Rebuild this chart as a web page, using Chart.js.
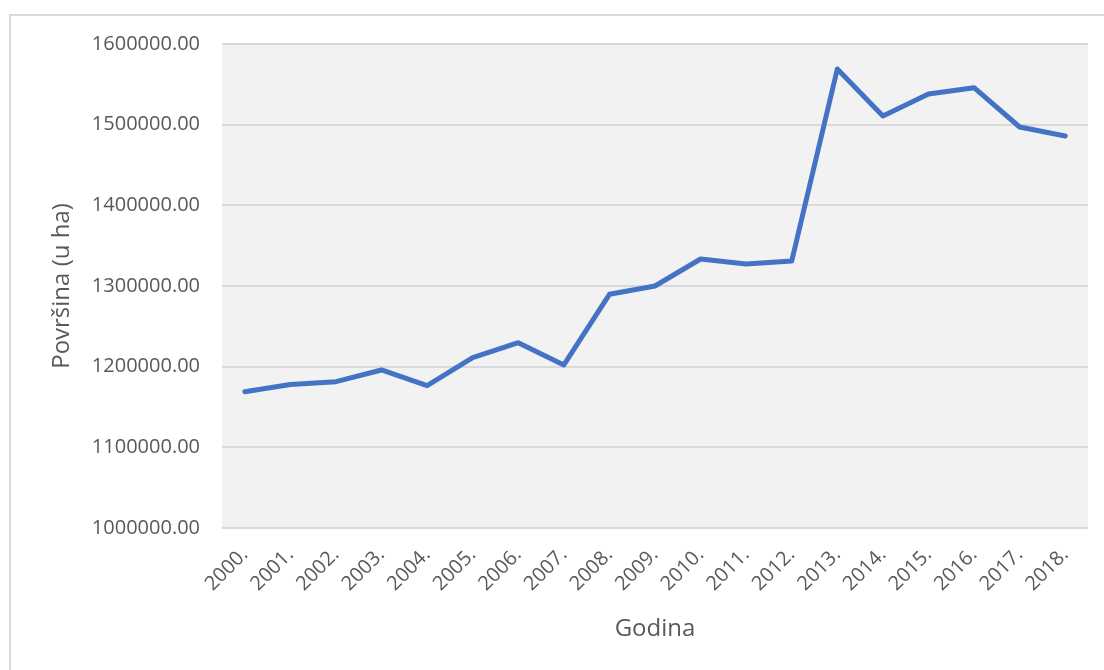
<!DOCTYPE html>
<html>
<head>
<meta charset="utf-8">
<script src="https://cdn.jsdelivr.net/npm/chart.js@4/dist/chart.umd.min.js"></script>
<style>
  html, body { margin: 0; padding: 0; background: #ffffff; }
  #wrap { width: 1104px; height: 670px; position: relative; }
</style>
</head>
<body>
<div id="wrap"><canvas id="c" width="1104" height="670"></canvas></div>
<script>
const categories = ["2000.", "2001.", "2002.", "2003.", "2004.", "2005.", "2006.", "2007.", "2008.", "2009.",
                    "2010.", "2011.", "2012.", "2013.", "2014.", "2015.", "2016.", "2017.", "2018."];
const povrsina = [1169000, 1178000, 1181400, 1195900, 1176400, 1211100, 1229700, 1202100, 1289700, 1300000,
                  1333500, 1327300, 1331000, 1569000, 1510700, 1538000, 1545800, 1497100, 1486000];
const yMin = 1000000;
const yMax = 1600000;
const yStep = 100000;
const xTitle = "Godina";
const yTitle = "Površina (u ha)";

const textColor = "#595959";
const gridColor = "#d9d9d9";

const backgroundPlugin = {
  id: "bgPlugin",
  beforeDraw(chart) {
    const ctx = chart.ctx;
    const a = chart.chartArea;
    ctx.save();
    ctx.fillStyle = "#ffffff";
    ctx.fillRect(0, 0, chart.width, chart.height);
    ctx.strokeStyle = gridColor;
    ctx.lineWidth = 2;
    ctx.strokeRect(10, 15, chart.width + 20, chart.height + 20);
    ctx.fillStyle = "#f2f2f2";
    ctx.fillRect(a.left, a.top, a.right - a.left, a.bottom - a.top);
    ctx.restore();
  }
};

new Chart(document.getElementById("c"), {
  type: "line",
  data: {
    labels: categories,
    datasets: [{
      label: yTitle,
      data: povrsina,
      borderColor: "#4472c4",
      backgroundColor: "#4472c4",
      borderWidth: 5,
      pointRadius: 0,
      pointHoverRadius: 0,
      tension: 0,
      borderCapStyle: "round",
      borderJoinStyle: "round",
      fill: false
    }]
  },
  options: {
    responsive: false,
    animation: false,
    devicePixelRatio: 1,
    layout: { padding: { left: 44, right: 16, top: 44, bottom: 22 } },
    plugins: {
      legend: { display: false },
      tooltip: { enabled: false },
      title: { display: false }
    },
    scales: {
      x: {
        type: "category",
        offset: true,
        grid: { display: false, drawTicks: false },
        border: { display: false },
        ticks: {
          color: textColor,
          font: { family: "'Open Sans'", size: 20 },
          minRotation: 45,
          maxRotation: 45,
          autoSkip: false,
          padding: 15
        },
        title: {
          display: true,
          text: xTitle,
          color: textColor,
          font: { family: "'Open Sans'", size: 24 },
          padding: { top: 4, bottom: 4 }
        },
        afterFit(scale) { scale.height = 120; }
      },
      y: {
        min: yMin,
        max: yMax,
        grid: { color: gridColor, lineWidth: 2, drawTicks: false },
        border: { display: false },
        ticks: {
          stepSize: yStep,
          color: textColor,
          font: { family: "'Open Sans'", size: 20 },
          padding: 22,
          callback: (v) => Number(v).toFixed(2)
        },
        title: {
          display: true,
          text: yTitle,
          color: textColor,
          font: { family: "'Open Sans'", size: 24 },
          padding: { top: 4, bottom: 4 }
        },
        afterFit(scale) { scale.width = 178; }
      }
    }
  },
  plugins: [backgroundPlugin]
});
</script>
</body>
</html>
